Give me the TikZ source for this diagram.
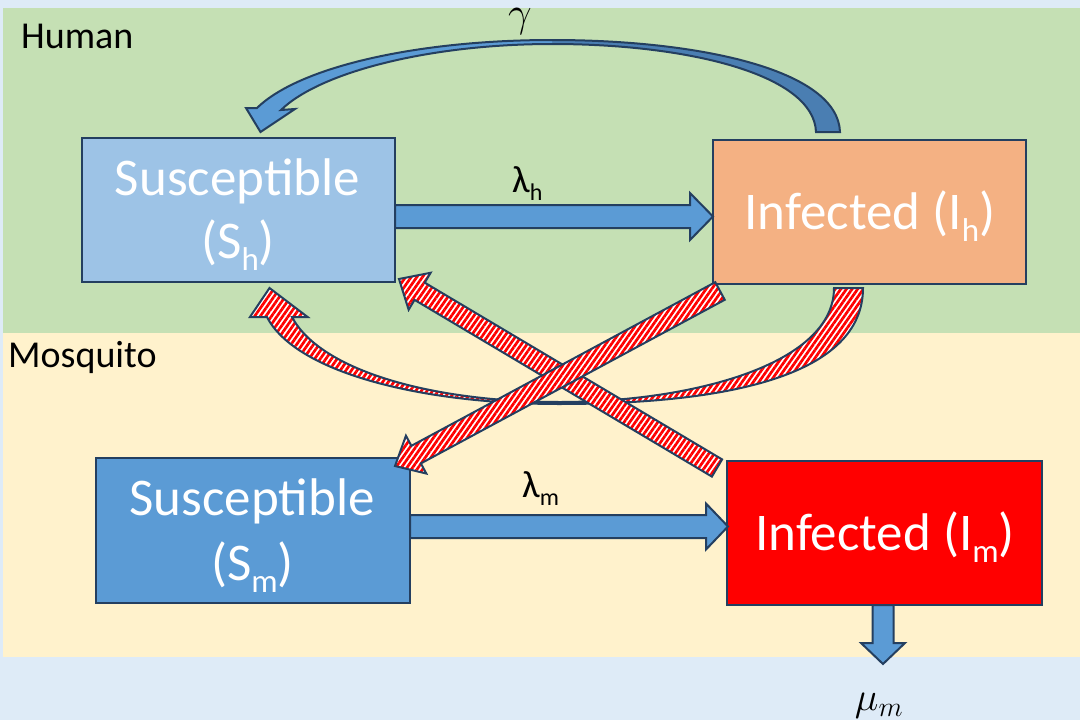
\RequirePackage{fix-cm}
\documentclass[tikz,border=0pt]{standalone}
\usepackage{fontspec}
\setmainfont{Carlito}
\usetikzlibrary{calc,patterns.meta}
\definecolor{bgblue}{HTML}{DEEBF7}
\definecolor{bandgreen}{HTML}{C5E0B4}
\definecolor{bandyellow}{HTML}{FFF2CC}
\definecolor{shfill}{HTML}{9DC3E6}
\definecolor{ihfill}{HTML}{F4B183}
\definecolor{smfill}{HTML}{5B9BD5}
\definecolor{imfill}{HTML}{FF0000}
\definecolor{edgecol}{HTML}{243F60}
\definecolor{arrblue}{HTML}{5B9BD5}
\definecolor{arrdark}{HTML}{4A7EB2}
\newcommand\lowsub[1]{\raisebox{-12pt}{\fontsize{33}{33}\selectfont #1}}
\newcommand\lamsub[1]{\raisebox{-8pt}{\fontsize{24}{24}\selectfont #1}}
% #1 style, #2 from, #3 to, #4 half shaft, #5 half head, #6 head length
\newcommand\fatarr[6]{%
  \coordinate (fahb) at ($(#3)!#6!(#2)$);
  \path[#1] ($(#2)!#4!90:(#3)$) -- ($(fahb)!#4!90:(#3)$) -- ($(fahb)!#5!90:(#3)$)
    -- (#3) -- ($(fahb)!#5!-90:(#3)$) -- ($(fahb)!#4!-90:(#3)$) -- ($(#2)!#4!-90:(#3)$) -- cycle;}
\tikzset{
  box/.style={rectangle, draw=edgecol, line width=2.5pt, inner sep=0pt},
  boxtext/.style={anchor=base, text=white, inner sep=0pt, font=\fontsize{53}{64}\selectfont},
  bandlabel/.style={anchor=base west, inner sep=0pt, font=\fontsize{38}{44}\selectfont},
  ratelabel/.style={anchor=base west, inner sep=0pt, font=\fontsize{38}{44}\selectfont},
  bluearrow/.style={fill=arrblue, draw=edgecol, line width=2pt, line join=miter},
  redhatch/.style={preaction={fill=white}, pattern={Lines[angle=55,distance=4.6pt,line width=2.7pt]},
    pattern color=red, draw=edgecol, line width=2pt, line join=miter},
}
\begin{document}
\begin{tikzpicture}[x=1pt,y=-1pt]
\useasboundingbox (0,0) rectangle (1080,720);
% backgrounds
\fill[bgblue] (0,0) rectangle (1080,720);
\fill[bandgreen] (3,8) rectangle (1080,333);
\fill[bandyellow] (3,333) rectangle (1080,657);
\node[bandlabel] (human) at (21,48) {Human};
\node[bandlabel] (mosq) at (8,367) {Mosquito};
% boxes
\node[box, fill=shfill, minimum width=313pt, minimum height=144pt] (Sh) at (238.5,210) {};
\node[box, fill=ihfill, minimum width=313pt, minimum height=144pt] (Ih) at (869.5,212) {};
\node[box, fill=smfill, minimum width=314pt, minimum height=145pt] (Sm) at (253,530.5) {};
\node[box, fill=imfill, minimum width=315pt, minimum height=144pt] (Im) at (884.5,533) {};
\node[boxtext] (ShT1) at (237.5,195) {Susceptible};
\node[boxtext] (ShT2) at (238,258) {(S\lowsub{h})};
\node[boxtext] (IhT) at (870,229) {Infected (I\lowsub{h})};
\node[boxtext] (SmT1) at (252,515) {Susceptible};
\node[boxtext] (SmT2) at (252.5,580) {(S\lowsub{m})};
\node[boxtext] (ImT) at (885,550) {Infected (I\lowsub{m})};
% straight blue arrows
\coordinate (lhA) at (395,216.5); \coordinate (lhB) at (713,216.5);
\fatarr{bluearrow}{lhA}{lhB}{11.5pt}{23.5pt}{23pt}
\coordinate (lmA) at (410,526.5); \coordinate (lmB) at (728,526.5);
\fatarr{bluearrow}{lmA}{lmB}{11.5pt}{23pt}{22pt}
\coordinate (muA) at (883,605); \coordinate (muB) at (883,664);
\fatarr{bluearrow}{muA}{muB}{10.5pt}{22pt}{21pt}
% gamma curved arrow
\fill[arrdark] (840,132) .. controls (838,70) and (700,40) .. (552,40) -- (552,44)
  .. controls (690,44) and (814,75) .. (816,132) -- cycle;
\fill[arrblue] (552,40) .. controls (420,40) and (300,66) .. (257,108) -- (246,108)
  -- (260.5,132) -- (295,109) -- (281,110) .. controls (320,72) and (430,44) .. (552,44) -- cycle;
\draw[draw=edgecol, line width=2pt, line join=miter] (840,132) .. controls (838,70) and (700,40) .. (552,40)
  .. controls (420,40) and (300,66) .. (257,108) -- (246,108) -- (260.5,132) -- (295,109) -- (281,110)
  .. controls (320,72) and (430,44) .. (552,44) .. controls (690,44) and (814,75) .. (816,132) -- cycle;
% red curved arrow
\path[redhatch] (863,288) .. controls (863,375) and (730,404) .. (559,404)
  .. controls (420,404) and (295,372) .. (267,317) -- (250,317) -- (269.5,288) -- (307.6,317) -- (292,317)
  .. controls (320,370) and (430,402) .. (560,402) .. controls (690,402) and (834,365) .. (834,288) -- cycle;
% red straight arrows
\coordinate (r1A) at (717,468); \coordinate (r1B) at (399,279);
\fatarr{redhatch}{r1A}{r1B}{10pt}{21.5pt}{24pt}
\coordinate (r2A) at (720,291); \coordinate (r2B) at (395,466);
\fatarr{redhatch}{r2A}{r2B}{10pt}{21.5pt}{24pt}
% rate labels
\node[ratelabel] (lamh) at (512,192) {λ\lamsub{h}};
\node[ratelabel] (lamm) at (522,497) {λ\lamsub{m}};
\node[anchor=base, inner sep=0pt] (gam) at (520,27) {\fontsize{42}{48}\selectfont$\gamma$};
\node[anchor=base, inner sep=0pt] (mu) at (879,710) {\fontsize{40}{46}\selectfont$\mu_m$};
\end{tikzpicture}
\end{document}
